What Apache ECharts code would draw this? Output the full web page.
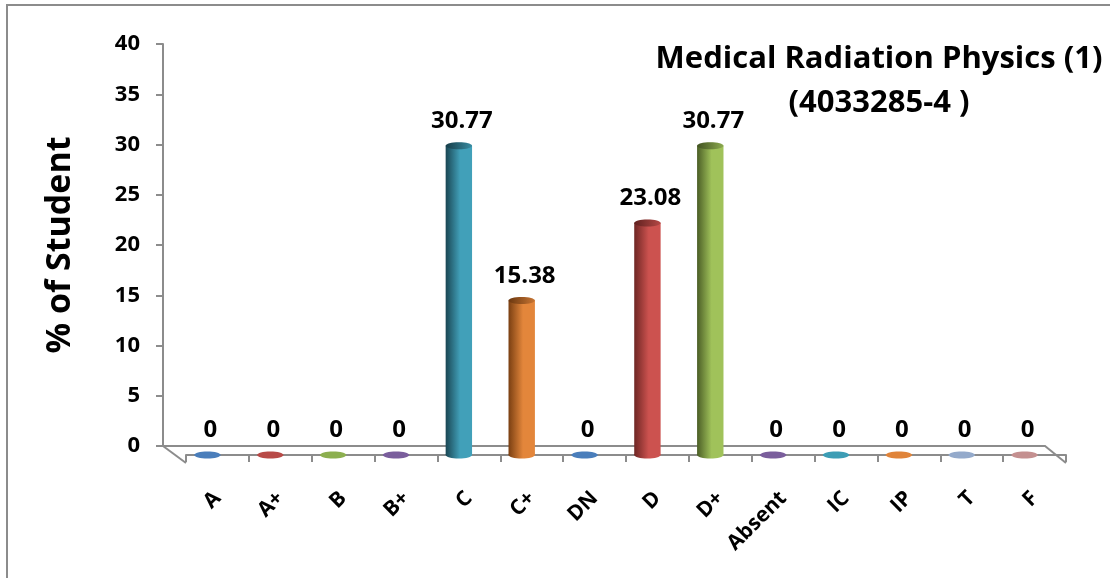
<!DOCTYPE html>
<html>
<head>
<meta charset="utf-8">
<script src="https://cdn.jsdelivr.net/npm/echarts@6/dist/echarts.min.js"></script>
<style>
html,body{margin:0;padding:0;background:#fff;}
#chart{width:1110px;height:578px;}
</style>
</head>
<body>
<div id="chart"></div>
<script>
// ---- data ----
const categories = ['A','A+','B','B+','C','C+','DN','D','D+','Absent','IC','IP','T','F'];
const values = [0,0,0,0,30.77,15.38,0,23.08,30.77,0,0,0,0,0];
const yMin = 0, yMax = 40, yInterval = 5;
const titleLines = ['Medical Radiation Physics (1)', '(4033285-4 )'];
const yName = '% of Student';

// ---- style ----
const palette = [
  ['#244a73','#4a7ebb'], ['#6e2624','#b84a47'], ['#566c2c','#8caf4f'], ['#47365f','#7a5e9c'],
  ['#1a4653','#41a0b9'], ['#7a3f12','#e3863b'], ['#244a73','#4a7ebb'], ['#6e2624','#cc524f'],
  ['#4b5e26','#a0c25a'], ['#47365f','#7a5e9c'], ['#1c4e5b','#3d9db5'], ['#7a3f12','#e0843a'],
  ['#5d7394','#94aacb'], ['#8a5958','#c49090']
];
const FONT = 'Open Sans';
const G = {left:163, right:1045, top:44, back:446, front:463, depthX:22};
const W = 1110, H = 578;

function renderItem(params, api) {
  const i = api.value(0), v = api.value(1);
  const base = api.coord([i, 0]);
  const top = api.coord([i, v]);
  const w = api.size([1, 0])[0] * 0.42;
  const ry = 3.5;
  const dark = palette[i][0], col = palette[i][1];
  const grad = new echarts.graphic.LinearGradient(0,0,1,0,[
    {offset:0, color:dark},{offset:0.55, color:col},{offset:1, color:col}
  ]);
  const children = [];
  if (v > 0) {
    children.push({type:'ellipse', shape:{cx:base[0], cy:base[1], rx:w/2, ry:ry}, style:{fill:grad}});
    children.push({type:'rect', shape:{x:base[0]-w/2, y:top[1], width:w, height:base[1]-top[1]}, style:{fill:grad}});
    children.push({type:'ellipse', shape:{cx:top[0], cy:top[1], rx:w/2, ry:ry}, style:{fill:new echarts.graphic.LinearGradient(0,0,1,0,[{offset:0,color:dark},{offset:1,color:col}])}});
    children.push({type:'ellipse', shape:{cx:top[0], cy:top[1], rx:w/2, ry:ry}, style:{fill:'rgba(0,0,0,0.12)'}});
  } else {
    children.push({type:'ellipse', shape:{cx:base[0], cy:base[1], rx:w/2, ry:ry}, style:{fill:col}});
  }
  children.push({type:'text', x:top[0]+3, y:top[1]-ry-9, style:{text:String(v), fill:'#000', font:'bold 24px "'+FONT+'"', align:'center', verticalAlign:'bottom'}});
  return {type:'group', children:children};
}

const chart = echarts.init(document.getElementById('chart'));
chart.setOption({
  animation:false,
  backgroundColor:'#fff',
  title:{
    text: titleLines.join('\n'), left:874, top:32, textAlign:'center',
    textStyle:{fontFamily:FONT, fontWeight:'bold', fontSize:31, lineHeight:44, color:'#000'}
  },
  grid:[
    {left:G.left, right:W-G.right, top:G.top, bottom:H-G.back},
    {left:G.left+G.depthX+1, right:W-(G.right+G.depthX-1), top:53, bottom:H-455},
    {left:176, right:54, top:53, bottom:H-455}
  ],
  xAxis:[
    {gridIndex:0, type:'category', data:categories, axisLine:{show:true, lineStyle:{color:'#8c8c8c', width:2}}, axisTick:{show:false}, axisLabel:{show:false}},
    {gridIndex:1, type:'category', data:categories, offset:8,
      axisLine:{show:true, lineStyle:{color:'#8c8c8c', width:2}},
      axisTick:{show:true, length:7, lineStyle:{color:'#8c8c8c', width:2}},
      axisLabel:{rotate:45, margin:32, fontFamily:FONT, fontWeight:'bold', fontSize:21, color:'#000'}},
    {gridIndex:2, type:'category', data:categories, show:false}
  ],
  yAxis:[
    {gridIndex:0, type:'value', min:yMin, max:yMax, interval:yInterval,
      name:yName, nameLocation:'middle', nameGap:86,
      nameTextStyle:{fontFamily:FONT, fontWeight:'bold', fontSize:34, color:'#000'},
      axisLine:{show:true, lineStyle:{color:'#8c8c8c', width:2}},
      axisTick:{show:true, length:7, lineStyle:{color:'#8c8c8c', width:2}},
      axisLabel:{margin:23, fontFamily:FONT, fontWeight:'bold', fontSize:22, color:'#000'},
      splitLine:{show:false}},
    {gridIndex:1, type:'value', min:yMin, max:yMax, show:false},
    {gridIndex:2, type:'value', min:yMin, max:yMax, show:false}
  ],
  graphic:[
    {type:'rect', shape:{x:7, y:5, width:1300, height:800}, style:{fill:'none', stroke:'#8c8c8c', lineWidth:2}, silent:true},
    {type:'line', shape:{x1:G.left, y1:G.back, x2:G.left+G.depthX+1, y2:G.front}, style:{stroke:'#8c8c8c', lineWidth:2}},
    {type:'line', shape:{x1:G.right, y1:G.back, x2:G.right+G.depthX-1, y2:G.front}, style:{stroke:'#8c8c8c', lineWidth:2}}
  ],
  series:[
    {type:'custom', xAxisIndex:2, yAxisIndex:2, renderItem:renderItem,
      data: values.map((v,i)=>[i,v]), clip:false}
  ]
});
</script>
</body>
</html>
